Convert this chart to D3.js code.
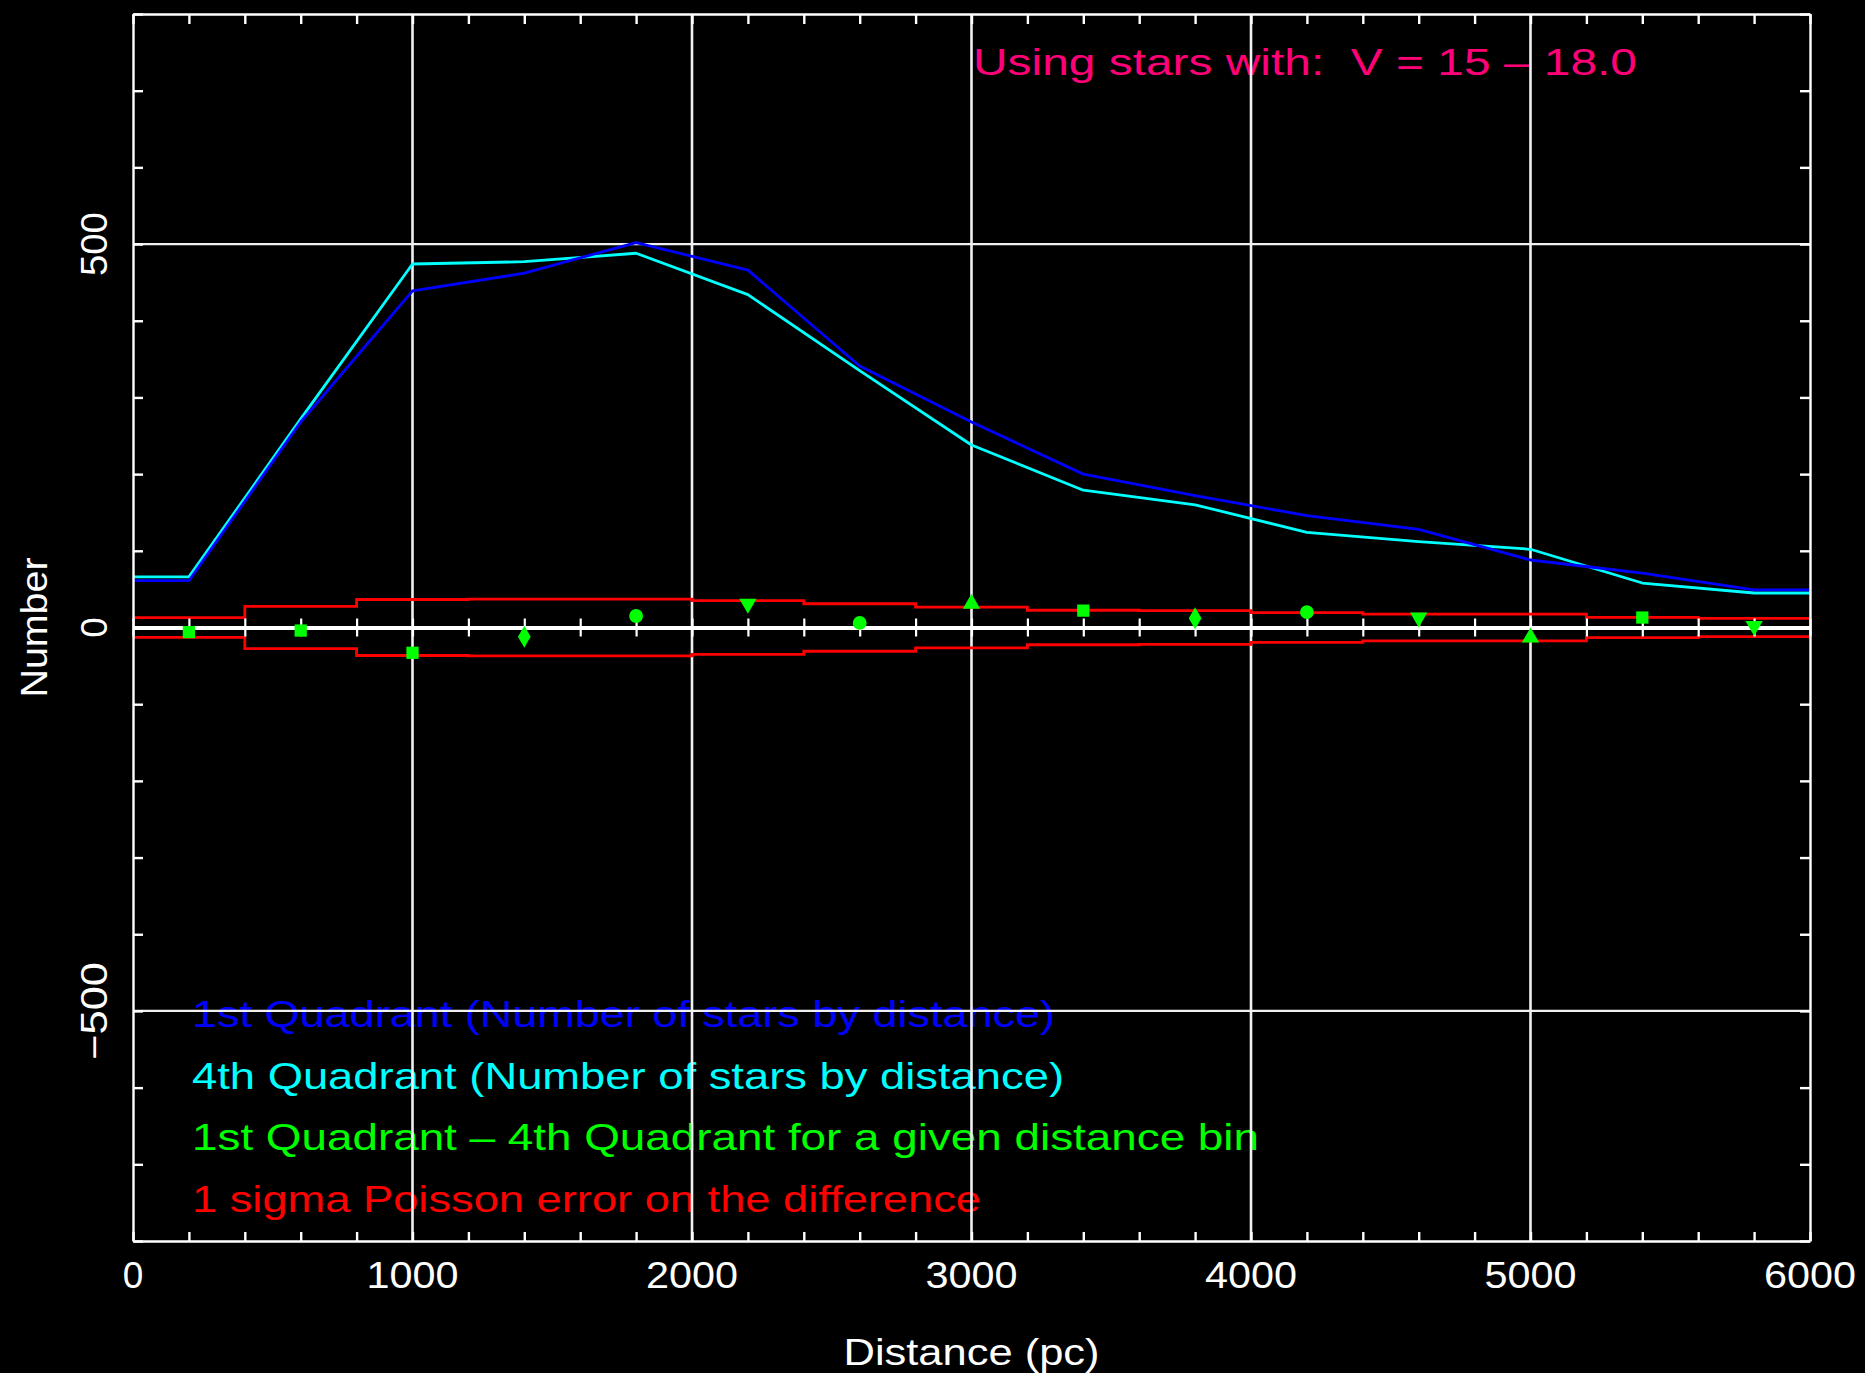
<!DOCTYPE html>
<html><head><meta charset="utf-8">
<script src="https://cdn.jsdelivr.net/npm/d3@7"></script>
<style>html,body{margin:0;padding:0;background:#000;} svg{display:block;}</style>
</head><body>
<script>
// ---- data ----
const distanceBinCenters = [200, 600, 1000, 1400, 1800, 2200, 2600, 3000, 3400, 3800, 4200, 4600, 5000, 5400, 5800];
const distanceBinEdges = [0, 400, 800, 1200, 1600, 2000, 2400, 2800, 3200, 3600, 4000, 4400, 4800, 5200, 5600, 6000];
const quadrant1Counts = [61, 268, 439, 462, 502, 466, 341, 268, 200, 172, 146, 128, 88, 71, 49];
const quadrant4Counts = [66, 272, 474, 477, 488, 434, 335, 238, 179, 160, 124, 112, 102, 58, 45];
const differenceCounts = [-6, -4, -33, -12, 15, 31, 6, 31, 22, 12, 20, 13, -13, 13, 2];
const poissonSigma = [13, 27.5, 36.5, 37, 37, 35, 31, 26.5, 22.5, 22, 19.5, 17.5, 17.5, 13.3, 12];
const xLabelTicks = [0, 1000, 2000, 3000, 4000, 5000, 6000];
const yLabelTicks = [-500, 0, 500];
const xGridValues = [1000, 2000, 3000, 4000, 5000];
const yGridValues = [-500, 500];
const titleText = "Using stars with:  V = 15 \u2013 18.0";
const legendLabels = [
  "1st Quadrant (Number of stars by distance)",
  "4th Quadrant (Number of stars by distance)",
  "1st Quadrant \u2013 4th Quadrant for a given distance bin",
  "1 sigma Poisson error on the difference"
];
const xAxisTitle = "Distance (pc)";
const yAxisTitle = "Number";

// ---- styles ----
const W = 1865, H = 1373;
const FONT = "'Liberation Sans', Arial, sans-serif";
const FS = 37;
const colBlue = "#0000ff", colCyan = "#00ffff", colGreen = "#00ff00", colRed = "#ff0000", colTitle = "#ff0078";
const legendColors = [colBlue, colCyan, colGreen, colRed];
const legendLengths = [863, 872, 1067, 789];
const markerTypes = [d3.symbolSquare, d3.symbolSquare, d3.symbolSquare, d3.symbolDiamond, d3.symbolCircle,
  "down", d3.symbolCircle, d3.symbolTriangle, d3.symbolSquare, d3.symbolDiamond, d3.symbolCircle,
  "down", d3.symbolTriangle, d3.symbolSquare, "down"];

const svg = d3.select("body").append("svg").attr("width", W).attr("height", H)
  .style("background", "#000");
svg.append("rect").attr("width", W).attr("height", H).attr("fill", "#000");

const x = d3.scaleLinear().domain([0, 6000]).range([133, 1810]);
const y = d3.scaleLinear().domain([-800, 800]).range([1241, 14]);

// ---- texts (drawn first; grid overlays them like the original) ----
svg.append("text").attr("x", 973).attr("y", 75)
  .attr("font-family", FONT).attr("font-size", FS).attr("fill", colTitle)
  .style("white-space", "pre")
  .attr("textLength", 664).attr("lengthAdjust", "spacingAndGlyphs")
  .text(titleText);

svg.append("g").selectAll("text").data(legendLabels).join("text")
  .attr("x", 192).attr("y", (d, i) => 1027 + i * 61.7)
  .attr("font-family", FONT).attr("font-size", FS)
  .attr("fill", (d, i) => legendColors[i])
  .attr("textLength", (d, i) => legendLengths[i]).attr("lengthAdjust", "spacingAndGlyphs")
  .text(d => d);

// ---- grid ----
const grid = svg.append("g");
grid.selectAll("line.v").data(xGridValues).join("line")
  .attr("x1", d => x(d)).attr("x2", d => x(d)).attr("y1", y(800)).attr("y2", y(-800))
  .attr("stroke", "#f0f0f0").attr("stroke-width", 2.6);
grid.selectAll("line.h").data(yGridValues).join("line")
  .attr("y1", d => y(d)).attr("y2", d => y(d)).attr("x1", x(0)).attr("x2", x(6000))
  .attr("stroke", "#f0f0f0").attr("stroke-width", 2.2);

// ---- red error band (histogram steps) ----
const stepLine = d3.line().curve(d3.curveStepAfter).x(d => x(d[0])).y(d => y(d[1]));
const bandUpper = distanceBinEdges.map((e, i) => [e, poissonSigma[Math.min(i, poissonSigma.length - 1)]]);
const bandLower = distanceBinEdges.map((e, i) => [e, -poissonSigma[Math.min(i, poissonSigma.length - 1)]]);
[bandUpper, bandLower].forEach(b => {
  svg.append("path").attr("d", stepLine(b)).attr("fill", "none")
    .attr("stroke", colRed).attr("stroke-width", 2.8);
});

// ---- zero line with ticks ----
const zeroTicks = d3.range(0, 6001, 200);
[d3.axisBottom(x), d3.axisTop(x)].forEach(ax => {
  const g = svg.append("g").attr("transform", `translate(0,${y(0)})`)
    .call(ax.tickValues(zeroTicks).tickSize(9).tickSizeOuter(0).tickFormat(""));
  g.select(".domain").attr("stroke", "#fff").attr("stroke-width", 4.2);
  g.selectAll(".tick line").attr("stroke", "#fff").attr("stroke-width", 2.2);
});

// ---- quadrant lines ----
const countLine = d3.line().x(d => x(d[0])).y(d => y(d[1]));
function extended(vals) {
  const pts = distanceBinCenters.map((c, i) => [c, vals[i]]);
  return [[0, vals[0]], ...pts, [6000, vals[vals.length - 1]]];
}
svg.append("path").attr("d", countLine(extended(quadrant4Counts))).attr("fill", "none")
  .attr("stroke", colCyan).attr("stroke-width", 2.8).attr("stroke-linejoin", "round");
svg.append("path").attr("d", countLine(extended(quadrant1Counts))).attr("fill", "none")
  .attr("stroke", colBlue).attr("stroke-width", 2.8).attr("stroke-linejoin", "round");

// ---- difference markers ----
svg.append("g").selectAll("path").data(differenceCounts).join("path")
  .attr("transform", (d, i) => {
    const t = markerTypes[i];
    return `translate(${x(distanceBinCenters[i])},${y(d)})` + (t === "down" ? " rotate(180)" : "");
  })
  .attr("d", (d, i) => {
    const t = markerTypes[i];
    const type = t === "down" ? d3.symbolTriangle : t;
    const size = type === d3.symbolSquare ? 150 : type === d3.symbolCircle ? 150 : type === d3.symbolDiamond ? 140 : 130;
    return d3.symbol().type(type).size(size)();
  })
  .attr("fill", colGreen);

// ---- frame & border ticks ----
const minorX = d3.range(0, 6001, 200);
const minorY = d3.range(-800, 801, 100);
function styleAxis(g, w) {
  g.selectAll(".domain").attr("stroke", "#fff").attr("stroke-width", w);
  g.selectAll(".tick line").attr("stroke", "#fff").attr("stroke-width", 2.4);
}
styleAxis(svg.append("g").attr("transform", `translate(0,${y(-800)})`)
  .call(d3.axisBottom(x).tickValues(minorX).tickSize(-9).tickSizeOuter(0).tickFormat("")), 2.4);
styleAxis(svg.append("g").attr("transform", `translate(0,${y(800)})`)
  .call(d3.axisTop(x).tickValues(minorX).tickSize(-10).tickSizeOuter(0).tickFormat("")), 2.4);
styleAxis(svg.append("g").attr("transform", `translate(${x(0)},0)`)
  .call(d3.axisLeft(y).tickValues(minorY).tickSize(-10).tickSizeOuter(0).tickFormat("")), 2.4);
styleAxis(svg.append("g").attr("transform", `translate(${x(6000)},0)`)
  .call(d3.axisRight(y).tickValues(minorY).tickSize(-10).tickSizeOuter(0).tickFormat("")), 2.4);

// ---- tick labels ----
svg.append("g").selectAll("text").data(xLabelTicks).join("text")
  .attr("x", d => x(d)).attr("y", 1288).attr("text-anchor", "middle")
  .attr("font-family", FONT).attr("font-size", FS).attr("fill", "#fff")
  .each(function(d) { const s = String(d); if (s.length > 1) d3.select(this).attr("textLength", 92).attr("lengthAdjust", "spacingAndGlyphs"); })
  .text(d => String(d));

svg.append("g").selectAll("text").data(yLabelTicks).join("text")
  .attr("transform", d => `translate(107,${y(d)}) rotate(-90)`).attr("text-anchor", "middle")
  .attr("font-family", FONT).attr("font-size", FS).attr("fill", "#fff")
  .each(function(d) {
    if (d === 500) d3.select(this).attr("textLength", 64).attr("lengthAdjust", "spacingAndGlyphs");
    if (d === -500) d3.select(this).attr("textLength", 98).attr("lengthAdjust", "spacingAndGlyphs");
  })
  .text(d => d < 0 ? "\u2212" + Math.abs(d) : String(d));

svg.append("text").attr("transform", `translate(47,${y(0)}) rotate(-90)`).attr("text-anchor", "middle")
  .attr("font-family", FONT).attr("font-size", FS).attr("fill", "#fff")
  .attr("textLength", 140).attr("lengthAdjust", "spacingAndGlyphs")
  .text(yAxisTitle);

svg.append("text").attr("x", (x(0) + x(6000)) / 2).attr("y", 1365).attr("text-anchor", "middle")
  .attr("font-family", FONT).attr("font-size", FS).attr("fill", "#fff")
  .attr("textLength", 256).attr("lengthAdjust", "spacingAndGlyphs")
  .text(xAxisTitle);
</script>
</body></html>
